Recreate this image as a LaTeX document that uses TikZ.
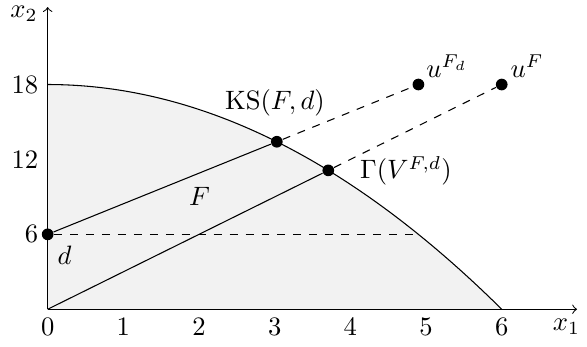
\documentclass[tikz,border=0pt]{standalone}
\begin{document}
\begin{tikzpicture}[x=1cm, y=0.165cm,
  dot/.style={circle, fill=black, inner sep=0pt, minimum size=4.4pt},
  guide/.style={dashed},
  region/.style={fill=black!5}]
\useasboundingbox (-0.630,-3.02) rectangle (7.127,24.77);
% region F
\fill[region] (0,0) -- plot[domain=0:6, samples=120, smooth] (\x, {18-\x*\x/2}) -- cycle;
\draw plot[domain=0:6, samples=120, smooth] (\x, {18-\x*\x/2});
% axes
\coordinate (O) at (0,0);
\coordinate (xend) at (6.995,0);
\coordinate (yend) at (0,24.2);
\draw[->] (O) -- (xend);
\draw[->] (O) -- (yend);
\node (x1lab) at (6.855,-1.42) {$x_1$};
\node (x2lab) at (-0.313,23.65) {$x_2$};
\foreach \i in {0,...,6} { \node[below] (xt\i) at (\i,0) {$\i$}; }
\foreach \j in {6,12,18} { \node[left] (yt\j) at (0,\j) {$\j$}; }
% points
\coordinate (dend) at (4.898979,6);
\node[dot] (d) at (0,6) {};
\node[dot] (KS) at (3.027735,13.416408) {};
\node[dot] (G) at (3.708204,11.124612) {};
\node[dot] (uFd) at (4.898979,18) {};
\node[dot] (uF) at (6,18) {};
% connectors
\draw (d) -- (KS);
\draw[guide] (KS) -- (uFd);
\draw (O) -- (G);
\draw[guide] (G) -- (uF);
\draw[guide] (d) -- (dend);
% labels
\node (KSlab) at (3.004,16.52) {$\mathrm{KS}(F,d)$};
\node (Glab) at (4.735,11.09) {$\Gamma(V^{F,d})$};
\node (Flab) at (2.006,9.03) {$F$};
\node (dlab) at (0.222,4.31) {$d$};
\node (uFdlab) at (5.277,19.45) {$u^{F_d}$};
\node (uFlab) at (6.334,19.45) {$u^F$};
\end{tikzpicture}
\end{document}
